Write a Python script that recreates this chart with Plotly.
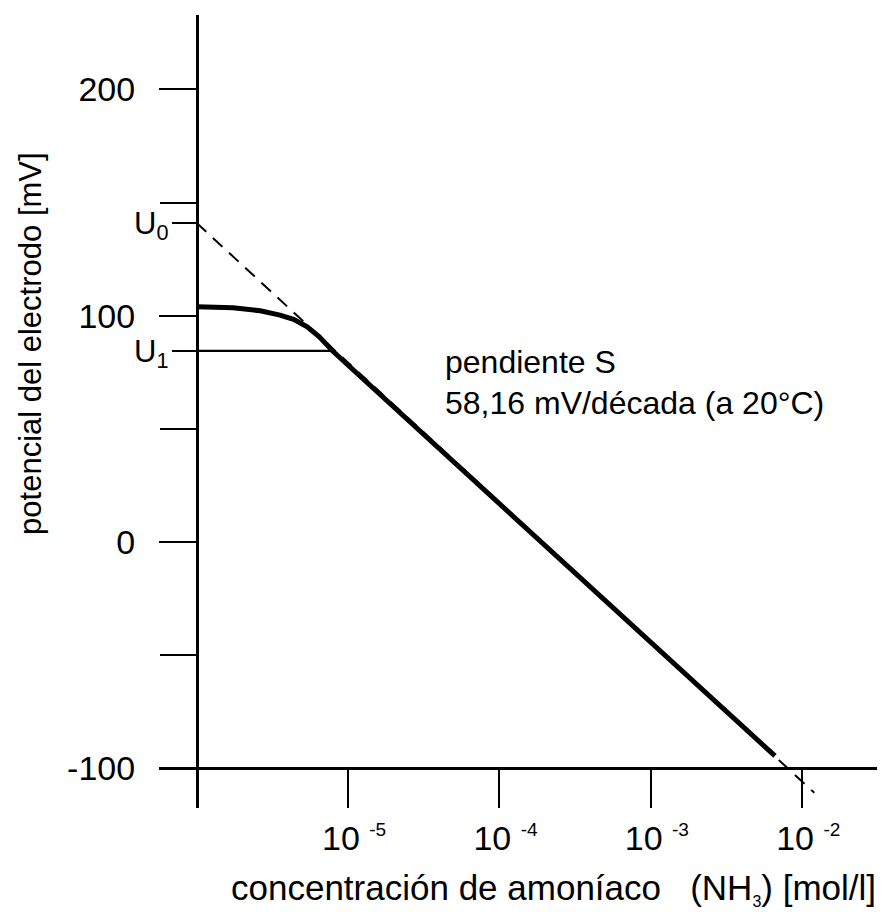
import plotly.graph_objects as go

# ---------------- data ----------------
curve_log_c = [-6.0, -5.76, -5.58, -5.45, -5.36, -5.27, -5.19, -5.10, -2.18]
curve_mv = [104.0, 103.5, 102.2, 100.3, 98.4, 95.1, 90.7, 84.3, -94.5]

asymptote_log_c = [-6.0, -1.92]
asymptote_mv = [141.0, -110.8]

U0 = 141.0
U1 = 84.5
u1_line_log_c = [-6.0, -5.10]

y_label_vals = [-100, 0, 100, 200]
y_label_text = ["-100", "0", "100", "200"]
y_minor_vals = [-50, 50, 150]

x_tick_exp = [-5, -4, -3, -2]

u_tick_vals = [U0, U1]
u_tick_text = ["U<sub>0</sub>", "U<sub>1</sub>"]

slope_line1 = "pendiente S"
slope_line2 = "58,16 mV/década (a 20°C)"
x_title = ("concentración de amoníaco &nbsp;&nbsp;(NH<sub><span style='font-size:16px'>3</span></sub>)"
           " [mol/l]")
y_title = "potencial del electrodo [mV]"

# ---------------- figure ----------------
FONT = "Liberation Sans, Arial, Helvetica, sans-serif"
x_range = [-6.249, -1.506]
y_range = [-117.5, 232.9]

def tolin(v):
    return 10 ** v

fig = go.Figure()

fig.add_trace(go.Scatter(
    x=[tolin(v) for v in asymptote_log_c], y=asymptote_mv, mode="lines",
    line=dict(color="black", width=2, dash="13px,9px"), hoverinfo="skip"))

fig.add_trace(go.Scatter(
    x=[tolin(v) for v in u1_line_log_c], y=[U1, U1], mode="lines",
    line=dict(color="black", width=2.2), hoverinfo="skip"))

fig.add_trace(go.Scatter(
    x=[tolin(v) for v in curve_log_c], y=curve_mv, mode="lines",
    line=dict(color="black", width=5), hoverinfo="skip"))

# invisible traces bound to the secondary y axes
fig.add_trace(go.Scatter(x=[tolin(-6.0)], y=[U0], yaxis="y2", mode="markers",
                         marker=dict(opacity=0), hoverinfo="skip"))
fig.add_trace(go.Scatter(x=[tolin(-6.0)], y=[U0], yaxis="y3", mode="markers",
                         marker=dict(opacity=0), hoverinfo="skip"))

x_pos = (-6.0 - x_range[0]) / (x_range[1] - x_range[0])
y_pos = (-100.0 - y_range[0]) / (y_range[1] - y_range[0])

# page body adds an 8px offset; compensate in the margins
L, T, R, B = 151, 7, 24.3, 121

fig.update_layout(
    width=893, height=921,
    margin=dict(l=L, r=R, t=T, b=B),
    paper_bgcolor="white", plot_bgcolor="white",
    showlegend=False,
    font=dict(family=FONT, color="black"),
    xaxis=dict(
        type="log", range=x_range,
        anchor="free", position=y_pos,
        showline=True, linecolor="black", linewidth=2.5,
        showgrid=False, zeroline=False,
        ticks="outside", ticklen=38, tickwidth=2.2, tickcolor="black",
        tickvals=[tolin(e) for e in x_tick_exp],
        ticktext=["10 <sup><span style='font-size:19px'>%d</span></sup>" % e for e in x_tick_exp],
        tickfont=dict(size=34, family=FONT, color="black"),
        ticklabelstandoff=1, ticklabelshift=6,
    ),
    yaxis=dict(
        range=y_range,
        anchor="free", position=x_pos,
        showline=True, linecolor="black", linewidth=2.5,
        showgrid=False, zeroline=False,
        ticks="outside", ticklen=37, tickwidth=2.2, tickcolor="black",
        tickvals=y_label_vals, ticktext=y_label_text,
        tickfont=dict(size=34, family=FONT, color="black"),
        ticklabelstandoff=17,
    ),
    yaxis2=dict(
        range=y_range, overlaying="y",
        anchor="free", position=x_pos, side="left",
        showline=False, showgrid=False, zeroline=False,
        ticks="outside", ticklen=25, tickwidth=2.2, tickcolor="black",
        tickvals=u_tick_vals, ticktext=u_tick_text,
        tickfont=dict(size=31, family=FONT, color="black"),
        ticklabelstandoff=-3,
    ),
    yaxis3=dict(
        range=y_range, overlaying="y",
        anchor="free", position=x_pos, side="left",
        showline=False, showgrid=False, zeroline=False,
        ticks="outside", ticklen=37, tickwidth=2.2, tickcolor="black",
        tickvals=y_minor_vals, showticklabels=False,
    ),
    annotations=[
        dict(text=slope_line1, xref="x", yref="y", x=-4.372, y=79.5,
             xanchor="left", yanchor="middle", align="left", showarrow=False,
             font=dict(size=32, family=FONT, color="black")),
        dict(text=slope_line2, xref="x", yref="y", x=-4.372, y=61.5,
             xanchor="left", yanchor="middle", align="left", showarrow=False,
             font=dict(size=32, family=FONT, color="black")),
        dict(text=x_title, xref="paper", yref="paper",
             x=(553 - 159) / 717.7, y=(808 - 889) / 793.0,
             xanchor="center", yanchor="middle", showarrow=False,
             font=dict(size=35, family=FONT, color="black")),
        dict(text=y_title, xref="paper", yref="paper", textangle=-90,
             x=(30 - 159) / 717.7, y=(808 - 343) / 793.0,
             xanchor="center", yanchor="middle", showarrow=False,
             font=dict(size=31, family=FONT, color="black")),
    ],
)

fig.write_html("out.html")
